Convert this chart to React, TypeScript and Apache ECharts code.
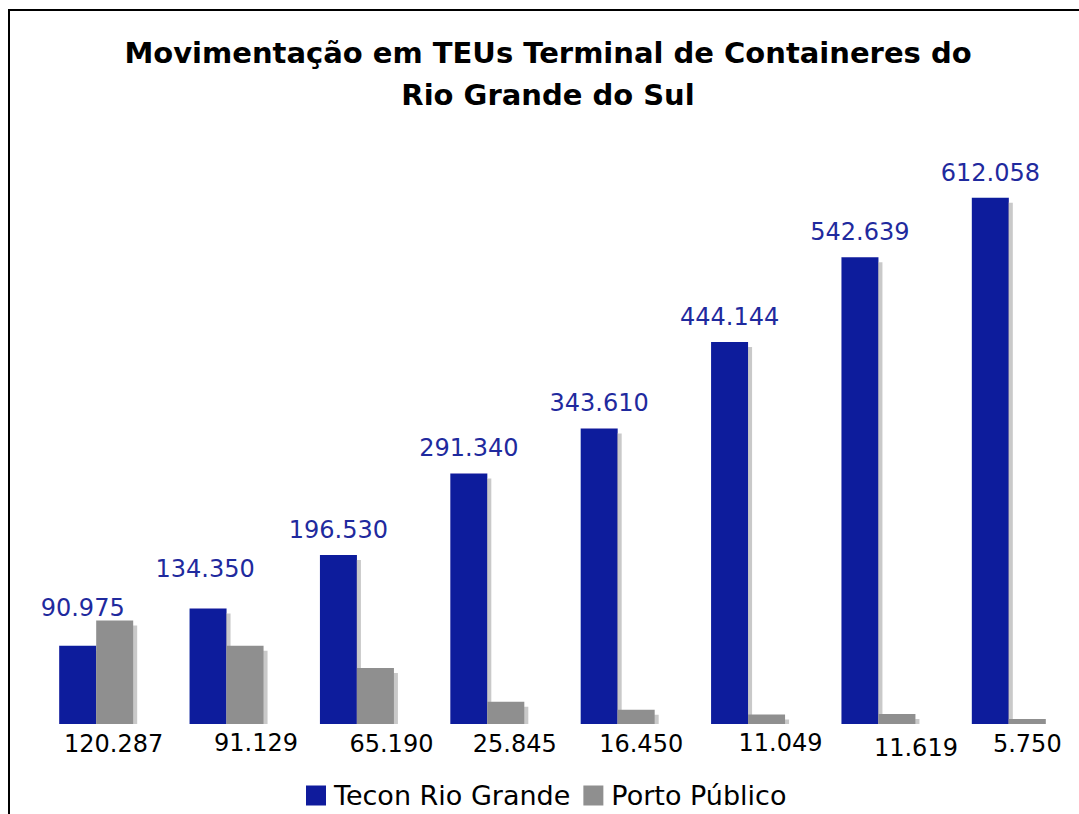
import { useEffect, useRef } from "react";
import * as echarts from "echarts";

const categories = ["1", "2", "3", "4", "5", "6", "7", "8"];
const teconValues = [90975, 134350, 196530, 291340, 343610, 444144, 542639, 612058];
const portoValues = [120287, 91129, 65190, 25845, 16450, 11049, 11619, 5750];
const seriesNames = ["Tecon Rio Grande", "Porto Público"];
const titleLines = ["Movimentação em TEUs Terminal de Containeres do", "Rio Grande do Sul"];

// label nudges (style only)
const teconLabelNudge = [[5, -13], [-3, -14], [0, 0], [0, 0], [0, 0], [0, 0], [0, 0], [0, 0]];
const portoLabelNudge = [[-1, 1], [11, 0], [16, 1], [9, 1], [5, 1], [14, 0], [19, 5], [0, 1]];

const BLUE = "#0f1b9c";
const GRAY = "#8f8f8f";
const SHADOW = "#c9c9c9";
const FONT = '"DejaVu Sans", Verdana, sans-serif';

const fmt = (v: number) => String(v).replace(/\B(?=(\d{3})+(?!\d))/g, ".");

export default function App() {
  const ref = useRef<HTMLDivElement>(null);
  useEffect(() => {
    if (!ref.current) return;
    const chart = echarts.init(ref.current, undefined, { renderer: "svg" });
    const shadowStyle = { shadowColor: SHADOW, shadowBlur: 0, shadowOffsetX: 4, shadowOffsetY: 5 };
    chart.setOption({
      animation: false,
      backgroundColor: "#fff",
      title: {
        text: titleLines.join("\n"),
        left: 548,
        textAlign: "center",
        top: 32,
        padding: 0,
        textStyle: { fontFamily: FONT, fontWeight: "bold", fontSize: 29, lineHeight: 42, color: "#000" },
      },
      legend: {
        data: seriesNames,
        left: 306,
        top: 782,
        padding: 0,
        itemWidth: 20,
        itemHeight: 20,
        itemGap: 13,
        icon: "rect",
        itemStyle: { shadowBlur: 0, shadowOffsetX: 0, shadowOffsetY: 0, shadowColor: "transparent" },
        textStyle: { fontFamily: FONT, fontSize: 27, color: "#000", padding: [0, 0, 0, 3] },
      },
      graphic: [
        {
          type: "rect",
          shape: { x: 9, y: 10, width: 1200, height: 1000 },
          style: { fill: "none", stroke: "#000", lineWidth: 2 },
          silent: true,
          z: -1,
        },
        {
          type: "rect",
          shape: { x: 30, y: 724, width: 1049, height: 6 },
          style: { fill: "#fff" },
          silent: true,
          z: 10,
        },
      ],
      grid: { left: 31, right: 5, top: 122, bottom: 90 },
      xAxis: { type: "category", data: categories, show: false },
      yAxis: { type: "value", min: 0, max: 700000, show: false },
      series: [
        {
          name: seriesNames[0],
          type: "bar",
          barWidth: 37,
          barGap: "0%",
          itemStyle: { color: BLUE, ...shadowStyle },
          data: teconValues.map((v, i) => ({
            value: v,
            label: { offset: teconLabelNudge[i] },
          })),
          label: {
            show: true,
            position: "top",
            distance: 13,
            formatter: (p: any) => fmt(p.value),
            fontFamily: FONT,
            fontSize: 24,
            color: "#1f2a9e",
          },
        },
        {
          name: seriesNames[1],
          type: "bar",
          barWidth: 37,
          barGap: "0%",
          itemStyle: { color: GRAY, ...shadowStyle },
          data: portoValues.map((v, i) => ({
            value: v,
            label: { offset: portoLabelNudge[i] },
          })),
          label: {
            show: true,
            position: "bottom",
            distance: 7,
            formatter: (p: any) => fmt(p.value),
            fontFamily: FONT,
            fontSize: 24,
            color: "#000",
          },
        },
      ],
    });
    return () => chart.dispose();
  }, []);
  return (
    <div
      ref={ref}
      style={{ position: "absolute", left: 0, top: 0, width: 1079, height: 814 }}
    />
  );
}
